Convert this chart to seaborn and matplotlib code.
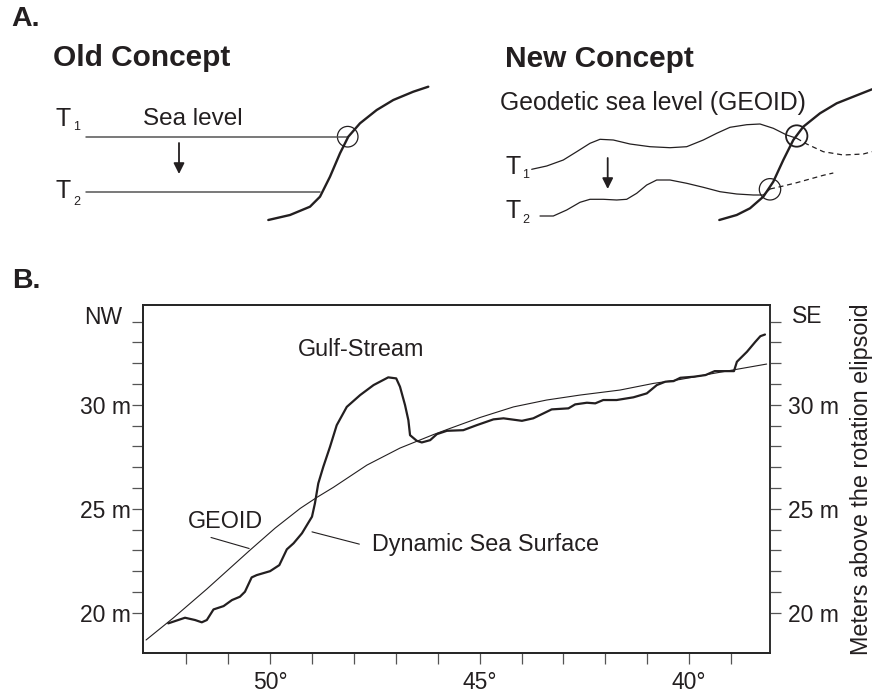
import matplotlib
matplotlib.use("Agg")
import matplotlib.pyplot as plt
from matplotlib.patches import Circle
import pandas as pd
import seaborn as sns

# ---------------- Panel B: NW-SE profile across the Gulf Stream ----------------
# Longitude (degrees W) and height above the rotation ellipsoid (m)
geoid_lon = [52.96, 52.31, 51.51, 50.48, 49.88, 49.28, 48.89, 48.49, 47.69, 46.90,
             46.10, 45.70, 44.99, 44.19, 43.40, 42.60, 41.65, 40.85, 40.21,
             39.42, 38.15]
geoid_h = [18.69, 19.75, 21.14, 23.01, 24.07, 25.02, 25.54, 26.03, 27.10, 27.92,
           28.57, 28.87, 29.39, 29.90, 30.23, 30.47, 30.71, 31.03, 31.22,
           31.51, 31.96]

sea_surface_lon = [52.43, 52.03, 51.79, 51.63, 51.51, 51.35, 51.11, 50.91, 50.72,
                   50.60, 50.44, 50.32, 50.00, 49.78, 49.60, 49.44, 49.24, 49.00,
                   48.93, 48.85, 48.73, 48.57, 48.41, 48.17, 47.85, 47.53, 47.18,
                   46.99, 46.90, 46.78, 46.70, 46.66, 46.50, 46.38, 46.18, 46.02,
                   45.78, 45.39, 45.07, 44.67, 44.43, 43.99, 43.72, 43.28, 42.88,
                   42.72, 42.44, 42.24, 42.05, 41.73, 41.33, 41.01, 40.77, 40.57,
                   40.37, 40.21, 39.89, 39.61, 39.39, 39.17, 38.93, 38.86, 38.62,
                   38.42, 38.30, 38.19]
sea_surface_h = [19.49, 19.76, 19.65, 19.54, 19.65, 20.16, 20.32, 20.61, 20.77,
                 21.01, 21.70, 21.81, 22.00, 22.29, 23.05, 23.34, 23.82, 24.62,
                 25.26, 26.22, 27.02, 27.98, 29.02, 29.90, 30.47, 30.95, 31.32,
                 31.27, 30.87, 29.99, 29.26, 28.54, 28.27, 28.19, 28.30, 28.59,
                 28.75, 28.78, 29.02, 29.30, 29.35, 29.23, 29.35, 29.78, 29.83,
                 30.02, 30.10, 30.07, 30.23, 30.23, 30.36, 30.55, 30.95, 31.11,
                 31.14, 31.30, 31.35, 31.43, 31.62, 31.62, 31.62, 32.07, 32.55,
                 33.03, 33.30, 33.38]

lon_ticks = list(range(52, 38, -1))
lon_labels = {50: "50°", 45: "45°", 40: "40°"}
height_ticks = list(range(20, 35))
height_labels = {20: "20 m", 25: "25 m", 30: "30 m"}

# ---------------- Panel A: schematic sketches (figure pixel units) ----------------
old_coast_x = [268.3, 290, 310, 320, 330, 340, 348.3, 360, 376.7, 393.3, 413.3, 428.3]
old_coast_y = [220, 215, 206.7, 196.7, 176.7, 153.3, 136.7, 123.3, 110, 100, 91.7, 86.7]
old_t1_x = [86, 348.3]
old_t1_y = [136.7, 136.7]
old_t2_x = [86, 320]
old_t2_y = [192.3, 192.3]

new_coast_x = [719.3, 736.7, 750, 763.3, 773.3, 783.3, 793.3, 803.3, 820, 836.7, 853.3, 872]
new_coast_y = [220, 215, 208.3, 196.7, 181.7, 160, 140, 126.7, 113.3, 103.3, 96.7, 89.3]
new_t1_x = [531.7, 546.7, 563.3, 576.7, 590, 600, 613.3, 630, 650, 670, 686.7, 703.3,
            716.7, 730, 746.7, 760, 773.3, 786.7, 796.7]
new_t1_y = [169.3, 166, 160, 151.7, 143.3, 139.3, 140, 144, 146.7, 147.7, 146.7, 140,
            133.3, 127.3, 124.7, 124, 128.3, 135, 138.3]
new_t1_dash_x = [796.7, 806.7, 823.3, 843.3, 863.3, 872]
new_t1_dash_y = [138.3, 144, 151.7, 155, 154, 151.7]
new_t2_x = [540, 553.3, 566.7, 580, 590, 603.3, 616.7, 626.7, 636.7, 646.7, 656.7, 670,
            686.7, 703.3, 720, 736.7, 753.3, 763.3, 770]
new_t2_y = [216, 216, 210, 202.3, 199.3, 199.3, 200, 199.3, 193.3, 185, 180, 180,
            183.3, 187.3, 191.7, 194, 195, 195, 189]
new_t2_dash_x = [770, 783.3, 796.7, 810, 823.3, 833.3]
new_t2_dash_y = [189, 186, 182.7, 179, 175.3, 173]

INK = "#231f20"
W, H = 872, 693

sns.set_theme(style="ticks")
plt.rcParams["font.family"] = ["Liberation Sans", "DejaVu Sans"]
plt.rcParams["text.color"] = INK

fig = plt.figure(figsize=(W / 100, H / 100), dpi=100)
fig.patch.set_facecolor("white")

# Overlay in pixel units for the schematic panel and panel letters
ov = fig.add_axes([0, 0, 1, 1])
ov.set_xlim(0, W)
ov.set_ylim(H, 0)
ov.axis("off")
ov.patch.set_alpha(0)

ov.text(11, 19, "A.", fontsize=20.5, fontweight="bold", va="center", ha="left")
ov.text(12, 281, "B.", fontsize=20.5, fontweight="bold", va="center", ha="left")
ov.text(53, 58, "Old Concept", fontsize=21.5, fontweight="bold", va="center", ha="left")
ov.text(505, 59, "New Concept", fontsize=21.5, fontweight="bold", va="center", ha="left")

# Old concept
ov.plot(old_t1_x, old_t1_y, color="#555555", lw=1.1)
ov.plot(old_t2_x, old_t2_y, color="#555555", lw=1.1)
ov.plot(old_coast_x, old_coast_y, color=INK, lw=1.7, solid_capstyle="round")
ov.add_patch(Circle((347.7, 136.7), 10.3, fill=False, lw=0.9, color=INK))
ov.annotate("", xy=(179, 174), xytext=(179, 143),
            arrowprops=dict(arrowstyle="-|>", lw=1.3, color=INK, mutation_scale=16,
                            shrinkA=0, shrinkB=0))
ov.text(143, 119, "Sea level", fontsize=17.5, va="center", ha="left")
ov.text(55, 119, "T", fontsize=18, va="center", ha="left")
ov.text(73, 127, "1", fontsize=9, va="center", ha="left")
ov.text(55, 191, "T", fontsize=18, va="center", ha="left")
ov.text(73, 202, "2", fontsize=9, va="center", ha="left")

# New concept
ov.plot(new_t1_x, new_t1_y, color=INK, lw=0.9)
ov.plot(new_t1_dash_x, new_t1_dash_y, color=INK, lw=0.9, ls=(0, (4, 3)))
ov.plot(new_t2_x, new_t2_y, color=INK, lw=0.9)
ov.plot(new_t2_dash_x, new_t2_dash_y, color=INK, lw=0.9, ls=(0, (4, 3)))
ov.plot(new_coast_x, new_coast_y, color=INK, lw=1.7, solid_capstyle="round")
ov.add_patch(Circle((796.7, 136), 10.7, fill=False, lw=1.3, color=INK))
ov.add_patch(Circle((770, 189.3), 10.7, fill=False, lw=0.9, color=INK))
ov.annotate("", xy=(607.7, 189), xytext=(607.7, 158),
            arrowprops=dict(arrowstyle="-|>", lw=1.3, color=INK, mutation_scale=16,
                            shrinkA=0, shrinkB=0))
ov.text(500, 103, "Geodetic sea level (GEOID)", fontsize=17.8, va="center", ha="left")
ov.text(505, 167, "T", fontsize=18, va="center", ha="left")
ov.text(522, 175, "1", fontsize=9, va="center", ha="left")
ov.text(505, 211, "T", fontsize=18, va="center", ha="left")
ov.text(522, 220, "2", fontsize=9, va="center", ha="left")

# ---------------- Panel B ----------------
left, right, top, bottom = 142.7, 770, 305, 653.3
ax = fig.add_axes([left / W, (H - bottom) / H, (right - left) / W, (bottom - top) / H])
ax.set_facecolor("white")

geoid = pd.DataFrame({"lon": geoid_lon, "h": geoid_h})
surface = pd.DataFrame({"lon": sea_surface_lon, "h": sea_surface_h})
sns.lineplot(data=geoid, x="lon", y="h", ax=ax, color=INK, lw=0.8,
             sort=False, estimator=None)
sns.lineplot(data=surface, x="lon", y="h", ax=ax, color=INK, lw=1.6,
             sort=False, estimator=None)

ax.set_xlim(53.04, 38.07)
ax.set_ylim(18.05, 34.8)
ax.set_xlabel("")
ax.set_ylabel("")

ax.set_xticks(lon_ticks)
ax.set_xticklabels([lon_labels.get(t, "") for t in lon_ticks])
ax.set_yticks(height_ticks)
ax.set_yticklabels([height_labels.get(t, "") for t in height_ticks])

for side in ["left", "right", "top", "bottom"]:
    ax.spines[side].set_visible(True)
    ax.spines[side].set_linewidth(1.4)
    ax.spines[side].set_color("#333333")

ax.tick_params(axis="x", direction="out", length=8, width=0.9, color="#555555",
               labelsize=16.5, labelcolor=INK, pad=5)
ax.tick_params(axis="y", direction="out", length=8, width=0.9, color="#555555",
               labelsize=16.5, labelcolor=INK, pad=0.5)

ax2 = ax.twinx()
ax2.set_ylim(ax.get_ylim())
ax2.set_yticks(height_ticks)
ax2.set_yticklabels([height_labels.get(t, "") for t in height_ticks])
ax2.tick_params(axis="y", direction="out", length=8, width=0.9, color="#555555",
                labelsize=16.5, labelcolor=INK, pad=5)
ax2.spines["right"].set_linewidth(1.4)
ax2.spines["right"].set_color("#333333")
ax2.set_ylabel("Meters above the rotation elipsoid", fontsize=16.8, color=INK,
               labelpad=8)

ax.text(-0.032, 0.965, "NW", transform=ax.transAxes, fontsize=16.5,
        ha="right", va="center")
ax.text(1.035, 0.968, "SE", transform=ax.transAxes, fontsize=16.5,
        ha="left", va="center")

# Curve labels with leader lines
ax.text(47.83, 32.66, "Gulf-Stream", fontsize=16.8, ha="center", va="center")
ax.text(51.07, 24.41, "GEOID", fontsize=16.8, ha="center", va="center")
ax.plot([51.41, 50.50], [23.62, 23.09], color=INK, lw=0.8)
ax.text(47.57, 23.30, "Dynamic Sea Surface", fontsize=16.8, ha="left", va="center")
ax.plot([49.00, 47.87], [23.89, 23.30], color=INK, lw=0.8)

fig.savefig("out.png", dpi=100, facecolor="white")
